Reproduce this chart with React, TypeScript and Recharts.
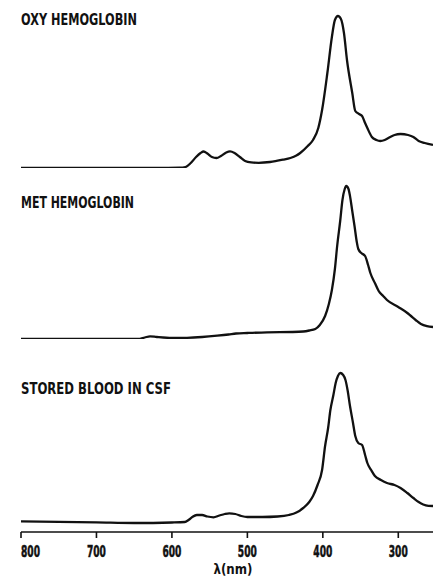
import { Label, Line, LineChart, XAxis, YAxis } from "recharts";

// Absorption spectra, relative absorbance (arbitrary units), wavelength in nm.
const OXY_NM = [800, 700, 620, 590, 582, 575, 568, 562, 558, 553, 547, 541, 535, 528, 523, 517, 510, 503, 495, 485, 470, 453, 443, 435, 430, 420, 413, 406, 401, 394, 388, 384, 380, 376, 372, 368, 361, 357, 352, 348, 344, 341, 335, 329, 324, 318, 313, 305, 297, 287, 280, 273, 265, 254];
const OXY_ABS = [0, 0, 0, 0.3, 1, 5, 11, 15, 16.5, 14.5, 11, 10, 12, 15.5, 16.6, 15, 11, 7, 5.6, 5.2, 6, 8.3, 10, 12.5, 15, 22, 28, 40, 58, 95, 131, 148, 152, 149, 135, 108, 75, 57, 54, 52, 45, 40, 31, 28, 27, 28, 30, 33, 34, 33, 31, 27, 25, 23];

const MET_NM = [800, 700, 645, 636, 629, 620, 600, 580, 560, 540, 525, 515, 500, 474, 440, 426, 418, 410, 404, 397, 392, 388, 384, 381, 377, 374, 371, 369, 366, 364, 361, 358, 355, 353, 349, 344, 340, 337, 331, 326, 320, 315, 300, 288, 284, 277, 270, 262, 254];
const MET_ABS = [0, 0, 0, 1.5, 2.7, 2, 1, 1.2, 2, 3.3, 4.5, 5.5, 6, 6.7, 7, 7.5, 8.5, 10, 14, 23, 35, 49, 70, 93, 118, 139, 150, 153, 150, 143, 128, 113, 97, 90, 86, 83, 74, 66, 56, 48, 43, 39, 32, 26, 23.5, 19, 15, 12.8, 12];

const CSF_NM = [800, 750, 700, 650, 600, 583, 578, 573, 567, 560, 553, 545, 537, 530, 524, 516, 508, 500, 480, 460, 445, 435, 426, 418, 413, 407, 401, 397, 393, 390, 386, 383, 380, 377, 373, 370, 367, 364, 360, 357, 353, 348, 344, 341, 336, 331, 323, 315, 305, 297, 288, 280, 273, 267, 260, 254];
const CSF_ABS = [1.7, 1.2, 0.7, 0, 0.5, 1, 3, 6, 8, 8, 6.5, 5.7, 7.5, 9, 9.7, 9, 7, 6, 6, 6.5, 8, 10.5, 15, 21, 27, 38, 53, 77, 95, 113, 128, 140, 147, 150, 148, 143, 132, 117, 100, 87, 80, 78, 68, 60, 53, 47, 43, 40, 38, 35, 30, 25, 21, 18.5, 17.2, 17];

const TICKS = [800, 700, 600, 500, 400, 300];
const TITLES = ["OXY HEMOGLOBIN", "MET HEMOGLOBIN", "STORED BLOOD IN CSF"];

const toRows = (nm: number[], abs: number[]) => nm.map((w, i) => ({ nm: w, abs: abs[i] }));

const FONT = "'DejaVu Sans', sans-serif";
const X_DOMAIN = [254, 800];

function Tick(props: any) {
  const { x, y, payload, index } = props;
  return (
    <text
      x={x}
      y={y + 17}
      textAnchor={index === 0 ? "start" : "middle"}
      fontFamily={FONT}
      fontWeight="bold"
      fontSize={16}
      fill="#111"
      stroke="#111"
      strokeWidth={0.6}
      textLength={19}
      lengthAdjust="spacingAndGlyphs"
    >
      {payload.value}
    </text>
  );
}

function AxisTitle(props: any) {
  const vb = props.viewBox;
  return (
    <text
      x={vb.x + vb.width / 2 + 6}
      y={vb.y + 42}
      textAnchor="middle"
      fontFamily={FONT}
      fontWeight="bold"
      fontSize={14}
      fill="#111"
      textLength={39}
      lengthAdjust="spacingAndGlyphs"
    >
      λ(nm)
    </text>
  );
}

function Panel({ rows, top, height, margin, yDomain, axis }: any) {
  return (
    <div style={{ position: "absolute", left: 0, top }}>
      <LineChart width={433} height={height} data={rows} margin={margin}>
        <XAxis
          dataKey="nm"
          type="number"
          domain={X_DOMAIN}
          reversed
          allowDataOverflow
          hide={!axis}
          ticks={TICKS}
          interval={0}
          height={46}
          tickSize={6}
          stroke="#111"
          axisLine={{ stroke: "#111", strokeWidth: 1.6 }}
          tickLine={{ stroke: "#111", strokeWidth: 1.6 }}
          tick={<Tick />}
        >
          {axis && <Label content={<AxisTitle />} />}
        </XAxis>
        <YAxis type="number" domain={yDomain} allowDataOverflow hide />
        <Line
          dataKey="abs"
          type="monotone"
          stroke="#111"
          strokeWidth={2.3}
          dot={false}
          isAnimationActive={false}
        />
      </LineChart>
    </div>
  );
}

export default function App() {
  return (
    <div style={{ position: "absolute", left: 0, top: 0, width: 433, height: 578, background: "#fff", overflow: "hidden" }}>
      <Panel rows={toRows(OXY_NM, OXY_ABS)} top={0} height={180} margin={{ top: 8, right: 0, bottom: 12, left: 21 }} yDomain={[0, 160]} />
      <Panel rows={toRows(MET_NM, MET_ABS)} top={175} height={180} margin={{ top: 4, right: 0, bottom: 16, left: 21 }} yDomain={[0, 160]} />
      <Panel rows={toRows(CSF_NM, CSF_ABS)} top={360} height={218} margin={{ top: 3, right: 0, bottom: 0, left: 21 }} yDomain={[-9, 160]} axis />
      <svg width={433} height={578} style={{ position: "absolute", left: 0, top: 0, pointerEvents: "none" }}>
        {TITLES.map((t, i) => (
          <text
            key={t}
            x={21}
            y={[25, 208, 394][i]}
            fontFamily={FONT}
            fontWeight="bold"
            fontSize={16}
            fill="#111"
            textLength={[116, 113, 150][i]}
            lengthAdjust="spacingAndGlyphs"
          >
            {t}
          </text>
        ))}
      </svg>
    </div>
  );
}
